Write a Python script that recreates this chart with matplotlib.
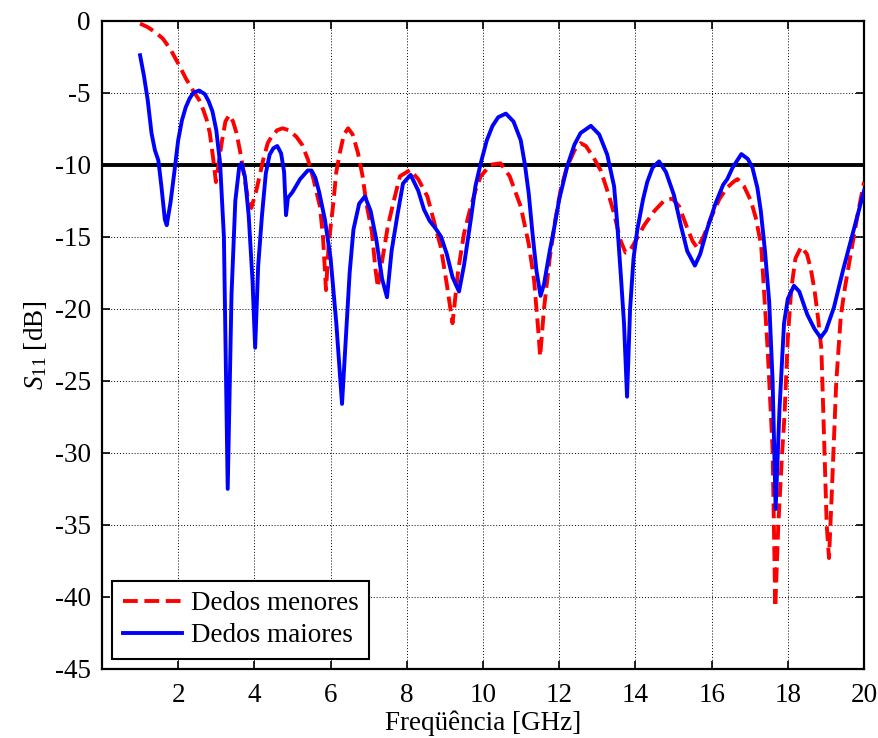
import matplotlib
matplotlib.use("Agg")
import matplotlib.pyplot as plt

plt.rcParams['font.family'] = ['Liberation Serif', 'DejaVu Serif']
plt.rcParams['mathtext.fontset'] = 'custom'
plt.rcParams['mathtext.rm'] = 'Liberation Serif'
plt.rcParams['mathtext.it'] = 'Liberation Serif:italic'
plt.rcParams['axes.unicode_minus'] = False

# Dedos menores (dashed red)
freq_menores = [1.0, 1.2, 1.4, 1.6, 1.8, 2.0, 2.2, 2.4, 2.55, 2.66, 2.75, 2.83, 2.92, 2.99,
                3.06, 3.14, 3.24, 3.34, 3.44, 3.53, 3.62, 3.71, 3.82, 3.92, 4.05, 4.23,
                4.35, 4.45, 4.6, 4.74, 4.9, 5.1, 5.25, 5.41, 5.55, 5.72, 5.8, 5.88, 5.95,
                6.07, 6.15, 6.24, 6.35, 6.46, 6.58, 6.72, 6.84, 6.94, 7.08, 7.18, 7.24,
                7.32, 7.5, 7.64, 7.82, 8.09, 8.3, 8.54, 8.72, 8.89, 9.05, 9.2, 9.35, 9.5,
                9.63, 9.8, 9.94, 10.2, 10.46, 10.7, 10.99, 11.2, 11.34, 11.45, 11.5, 11.6,
                11.75, 11.9, 12.04, 12.2, 12.4, 12.56, 12.7, 12.9, 13.09, 13.3, 13.44,
                13.6, 13.74, 13.85, 14.0, 14.23, 14.5, 14.75, 14.97, 15.15, 15.36, 15.5,
                15.63, 15.8, 15.98, 16.2, 16.4, 16.59, 16.68, 16.85, 17.03, 17.16, 17.3,
                17.47, 17.6, 17.67, 17.75, 17.85, 17.91, 18.0, 18.09, 18.2, 18.35, 18.5,
                18.6, 18.7, 18.8, 18.88, 18.96, 19.02, 19.08, 19.15, 19.27, 19.39, 19.5,
                19.67, 19.85, 20.0]
s11_menores = [-0.2, -0.45, -0.8, -1.25, -2.0, -2.97, -4.0, -4.9, -5.5, -6.2, -6.9, -7.8,
               -9.6, -11.2, -10.0, -8.5, -7.0, -6.55, -7.0, -7.8, -9.0, -10.4, -12.2,
               -13.0, -11.8, -9.67, -8.5, -8.05, -7.6, -7.47, -7.6, -8.05, -8.6, -9.67,
               -11.0, -12.9, -15.0, -18.7, -15.5, -12.7, -10.5, -9.2, -7.9, -7.47, -7.9,
               -9.2, -10.8, -12.7, -14.6, -17.3, -18.5, -17.2, -14.3, -12.7, -10.8,
               -10.36, -11.0, -12.2, -14.0, -15.7, -18.3, -21.0, -17.3, -14.8, -13.4,
               -11.8, -10.8, -10.0, -9.9, -10.8, -12.9, -15.5, -18.0, -21.5, -23.3,
               -20.0, -16.5, -13.8, -11.7, -10.2, -9.0, -8.5, -8.7, -9.5, -10.4, -12.1,
               -13.4, -15.2, -16.1, -16.0, -15.3, -14.2, -13.2, -12.5, -12.35, -12.9,
               -14.4, -15.3, -15.8, -14.9, -13.7, -12.4, -11.6, -11.15, -11.0, -11.5,
               -12.5, -13.7, -15.6, -22.8, -29.8, -40.7, -35.0, -30.0, -27.5, -22.0,
               -18.6, -16.5, -15.7, -16.2, -17.2, -18.7, -20.8, -22.8, -29.8, -35.0,
               -37.3, -33.0, -25.1, -20.5, -18.5, -15.9, -13.2, -11.2]

# Dedos maiores (solid blue)
freq_maiores = [1.0, 1.1, 1.2, 1.3, 1.39, 1.48, 1.56, 1.65, 1.7, 1.8, 1.9, 2.0, 2.1, 2.2,
                2.3, 2.4, 2.55, 2.7, 2.8, 2.9, 3.0, 3.1, 3.2, 3.3, 3.4, 3.5, 3.6, 3.66,
                3.75, 3.85, 3.95, 4.02, 4.1, 4.2, 4.3, 4.4, 4.5, 4.6, 4.7, 4.78, 4.83,
                4.88, 5.0, 5.2, 5.4, 5.5, 5.6, 5.7, 5.85, 6.0, 6.15, 6.3, 6.4, 6.5, 6.6,
                6.75, 6.9, 7.05, 7.2, 7.35, 7.48, 7.6, 7.76, 7.9, 8.1, 8.3, 8.45, 8.6,
                8.75, 8.9, 9.05, 9.2, 9.37, 9.5, 9.68, 9.8, 9.94, 10.1, 10.25, 10.4, 10.6,
                10.8, 10.99, 11.1, 11.2, 11.3, 11.4, 11.51, 11.6, 11.75, 11.86, 12.0,
                12.21, 12.4, 12.56, 12.83, 13.05, 13.26, 13.44, 13.52, 13.62, 13.7,
                13.78, 13.86, 13.95, 14.05, 14.2, 14.31, 14.45, 14.62, 14.8, 15.01, 15.2,
                15.36, 15.56, 15.7, 15.89, 16.1, 16.3, 16.41, 16.55, 16.78, 16.95, 17.07,
                17.2, 17.29, 17.4, 17.51, 17.6, 17.68, 17.78, 17.9, 18.0, 18.16, 18.3,
                18.51, 18.7, 18.86, 19.0, 19.21, 19.45, 19.62, 19.8, 20.0]
s11_maiores = [-2.4, -3.8, -5.5, -7.8, -9.0, -9.7, -11.5, -13.8, -14.2, -12.6, -10.5, -8.3,
               -6.9, -6.0, -5.4, -5.0, -4.85, -5.1, -5.6, -6.3, -7.6, -9.9, -15.0,
               -32.5, -19.0, -12.5, -10.2, -9.9, -10.8, -13.5, -18.0, -22.7, -17.0,
               -13.5, -10.6, -9.3, -8.85, -8.7, -9.2, -10.5, -13.5, -12.3, -11.9, -11.0,
               -10.4, -10.4, -10.9, -11.9, -13.8, -16.5, -21.0, -26.6, -22.0, -17.5,
               -14.5, -12.7, -12.2, -13.2, -15.2, -17.9, -19.2, -16.0, -13.4, -11.3,
               -10.7, -11.8, -13.1, -13.9, -14.4, -15.0, -16.2, -17.8, -18.8, -17.0,
               -13.8, -11.5, -9.9, -8.3, -7.3, -6.7, -6.45, -7.0, -8.3, -10.0, -12.0,
               -14.8, -17.3, -19.1, -18.3, -16.0, -14.5, -12.4, -10.1, -8.6, -7.8, -7.3,
               -7.9, -9.3, -11.5, -14.0, -17.8, -21.0, -26.1, -20.0, -16.5, -14.5,
               -12.4, -11.2, -10.2, -9.77, -10.5, -12.1, -14.3, -16.0, -17.0, -16.2,
               -14.4, -12.7, -11.4, -11.0, -10.2, -9.26, -9.6, -10.2, -11.6, -13.2,
               -16.0, -19.5, -25.0, -33.9, -27.0, -21.0, -19.3, -18.4, -18.8, -20.4,
               -21.4, -22.0, -21.5, -19.9, -17.3, -15.6, -13.8, -11.8]

threshold_db = -10
x_ticks = [2, 4, 6, 8, 10, 12, 14, 16, 18, 20]
y_ticks = [0, -5, -10, -15, -20, -25, -30, -35, -40, -45]

fig = plt.figure(figsize=(8.79, 7.38), dpi=100)
ax = fig.add_axes([0.116, 0.0935, 0.867, 0.8785])

ax.plot(freq_menores, s11_menores, color='#ff0000', lw=2.8, ls=(0, (3.8, 1.7)),
        label='Dedos menores', zorder=3)
ax.plot(freq_maiores, s11_maiores, color='#0000ff', lw=2.8, label='Dedos maiores',
        zorder=4)
ax.axhline(threshold_db, color='black', lw=2.8, zorder=2)

ax.set_xlim(0, 20)
ax.set_ylim(-45, 0)
ax.set_xticks(x_ticks)
ax.set_yticks(y_ticks)
ax.grid(True, color='black', lw=0.7, ls=(0, (1, 2)))
ax.tick_params(direction='in', top=True, right=True, length=6, width=1.2,
               labelsize=19.5)
ax.tick_params(axis='x', pad=10)
ax.tick_params(axis='y', pad=8)
for s in ax.spines.values():
    s.set_linewidth(1.6)

ax.set_xlabel('Freqüência [GHz]', fontsize=19.5, labelpad=2)
ax.set_ylabel(r'$S_{11}$ [dB]', fontsize=19.5, labelpad=4)

leg = ax.legend(loc='lower left', fontsize=19.5, frameon=True, fancybox=False,
                edgecolor='black', framealpha=1, handlelength=2.2,
                borderaxespad=0.37, borderpad=0.4, labelspacing=0.25,
                handletextpad=0.3)
leg.get_frame().set_linewidth(1.5)

fig.savefig('out.png', dpi=100)
